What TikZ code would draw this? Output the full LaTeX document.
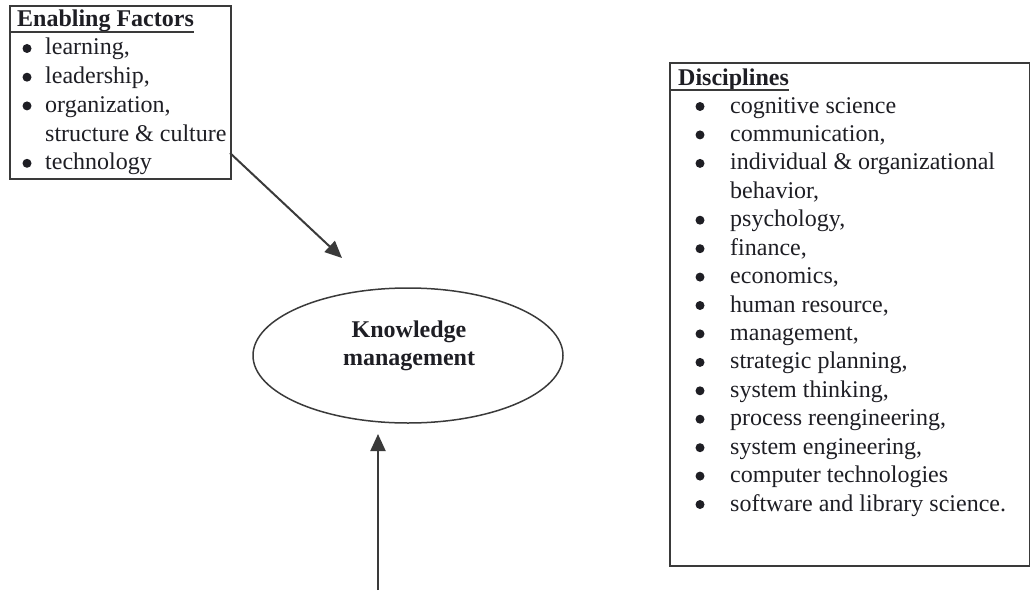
\documentclass[tikz,border=0pt]{standalone}
\usepackage{fontspec}
\setmainfont{Liberation Serif}
\usetikzlibrary{arrows.meta,shapes.geometric}
\definecolor{ink}{HTML}{1E1E24}
\definecolor{rule}{HTML}{3A3A3A}
\tikzset{
  box/.style={draw=rule, line width=2pt, rectangle, inner sep=0pt, anchor=north west},
  txt/.style={inner sep=0pt, anchor=base west, text=ink, font=\fontsize{24pt}{28pt}\selectfont},
  hdr/.style={txt, font=\fontsize{24pt}{28pt}\selectfont\bfseries},
  bul/.style={circle, fill=ink, inner sep=0pt, minimum size=9pt, yshift=6.5pt},
  kmtxt/.style={inner sep=0pt, anchor=base, text=ink, font=\fontsize{24pt}{28pt}\selectfont\bfseries},
  uline/.style={draw=rule, line width=2pt},
  arr/.style={draw=rule, line width=2pt, -{Triangle[length=17pt,width=15pt]}},
}
\begin{document}
\begin{tikzpicture}[x=1pt,y=-1pt]
\useasboundingbox (0,0) rectangle (1030,610);

% Enabling factors box
\node[box, minimum width=221pt, minimum height=173pt] (ef) at (9,5) {};
\node[hdr] (efh) at (17,27) {Enabling Factors};
\draw[uline] (ef.west |- 0,32) -- (efh.east |- 0,32);
\node[bul] (eb1) at (27,55) {};
\node[txt] (e1) at (45,55) {learning,};
\node[bul] (eb2) at (27,83.7) {};
\node[txt] (e2) at (45,83.7) {leadership,};
\node[bul] (eb3) at (27,112.4) {};
\node[txt] (e3) at (45,112.4) {organization,};
\node[txt] (e3b) at (45,141) {structure \& culture};
\node[bul] (eb4) at (27,169.8) {};
\node[txt] (e4) at (45,169.8) {technology};

% Disciplines box
\node[box, minimum width=360pt, minimum height=503pt] (dp) at (669,62) {};
\node[hdr] (dph) at (678,85) {Disciplines};
\draw[uline] (dp.west |- 0,90) -- (dph.east |- 0,90);
\node[bul] (db1) at (700,113) {};
\node[txt] (d1) at (730,113) {cognitive science};
\node[bul] (db2) at (700,141.4) {};
\node[txt] (d2) at (730,141.4) {communication,};
\node[bul] (db3) at (700,169.9) {};
\node[txt] (d3) at (730,169.9) {individual \& organizational};
\node[txt] (d3b) at (730,198.3) {behavior,};
\node[bul] (db4) at (700,226.7) {};
\node[txt] (d4) at (730,226.7) {psychology,};
\node[bul] (db5) at (700,255.2) {};
\node[txt] (d5) at (730,255.2) {finance,};
\node[bul] (db6) at (700,283.6) {};
\node[txt] (d6) at (730,283.6) {economics,};
\node[bul] (db7) at (700,312) {};
\node[txt] (d7) at (730,312) {human resource,};
\node[bul] (db8) at (700,340.4) {};
\node[txt] (d8) at (730,340.4) {management,};
\node[bul] (db9) at (700,368.9) {};
\node[txt] (d9) at (730,368.9) {strategic planning,};
\node[bul] (db10) at (700,397.3) {};
\node[txt] (d10) at (730,397.3) {system thinking,};
\node[bul] (db11) at (700,425.7) {};
\node[txt] (d11) at (730,425.7) {process reengineering,};
\node[bul] (db12) at (700,454.2) {};
\node[txt] (d12) at (730,454.2) {system engineering,};
\node[bul] (db13) at (700,482.6) {};
\node[txt] (d13) at (730,482.6) {computer technologies};
\node[bul] (db14) at (700,511) {};
\node[txt] (d14) at (730,511) {software and library science.};

% Central ellipse
\node[ellipse, draw=rule, line width=1.5pt, minimum width=310pt, minimum height=135pt, inner sep=0pt] (km) at (408,355.5) {};
\node[kmtxt] (km1) at (409,337) {Knowledge};
\node[kmtxt] (km2) at (409,365) {management};

% Connectors
\coordinate (s1) at (230,153);
\coordinate (t1) at (342,258);
\draw[arr] (s1) -- (t1);
\coordinate (s2) at (378,590);
\coordinate (t2) at (378,434);
\draw[arr] (s2) -- (t2);
\end{tikzpicture}
\end{document}
